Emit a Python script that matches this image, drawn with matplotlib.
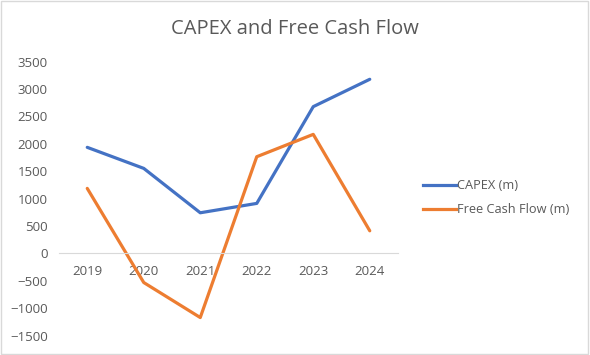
import matplotlib.pyplot as plt
from matplotlib.patches import Rectangle
from matplotlib.lines import Line2D

# Data
years = ['2019', '2020', '2021', '2022', '2023', '2024']
capex = [1937, 1553, 743, 914, 2680, 3179]
fcf = [1188, -530, -1169, 1766, 2174, 414]

plt.rcParams['font.family'] = ['Open Sans', 'DejaVu Sans']
grey = '#595959'

fig = plt.figure(figsize=(5.9, 3.55), dpi=100)
ax = fig.add_axes([0.1, 0.0544, 0.5746, 0.7718])

x = range(len(years))
ax.plot(x, capex, color='#4472C4', lw=2.3, solid_capstyle='round', label='CAPEX (m)')
ax.plot(x, fcf, color='#ED7D31', lw=2.3, solid_capstyle='round', label='Free Cash Flow (m)')

ax.set_xlim(-0.5, len(years) - 0.5)
ax.set_ylim(-1500, 3500)
ax.set_yticks(range(-1500, 3501, 500))
ax.set_xticks(list(x))
ax.set_xticklabels(years)

for s in ['top', 'right', 'left']:
    ax.spines[s].set_visible(False)
ax.spines['bottom'].set_position(('data', 0))
ax.spines['bottom'].set_color('#D9D9D9')
ax.spines['bottom'].set_linewidth(0.8)
ax.tick_params(axis='both', length=0, colors=grey, labelsize=9.5)
ax.tick_params(axis='x', pad=8)
ax.tick_params(axis='y', pad=8)

fig.text(0.5, 0.918, 'CAPEX and Free Cash Flow', ha='center', va='center',
         fontsize=14.5, color=grey)

handles = [Line2D([], [], color='#4472C4', lw=2.3),
           Line2D([], [], color='#ED7D31', lw=2.3)]
fig.legend(handles, ['CAPEX (m)', 'Free Cash Flow (m)'], loc='center left',
           bbox_to_anchor=(0.697, 0.443), frameon=False, fontsize=9.2,
           labelcolor=grey, handlelength=2.6, handletextpad=0.1, labelspacing=0.85)

fig.patches.append(Rectangle((0.002, 0.003), 0.995, 0.993, transform=fig.transFigure,
                             fill=False, edgecolor='#D9D9D9', lw=1))

fig.savefig('out.png', dpi=100)
